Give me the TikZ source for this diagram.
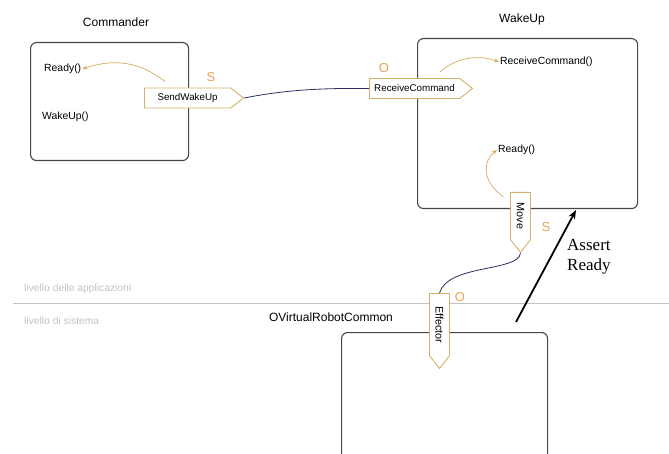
\documentclass[tikz,border=0pt]{standalone}
\usepackage{fontspec}
\setmainfont{Liberation Sans}
\newfontfamily\assertfont{Liberation Serif}
\usetikzlibrary{shapes.symbols,arrows.meta}

\definecolor{boxgray}{RGB}{70,70,70}
\definecolor{porttan}{RGB}{212,178,108}
\definecolor{calltan}{RGB}{214,172,96}
\definecolor{sidecol}{RGB}{232,164,80}
\definecolor{wirecol}{RGB}{45,45,95}
\definecolor{levelgray}{RGB}{195,195,195}

\begin{document}
\begin{tikzpicture}[x=1pt,y=-1pt,
  comp/.style={draw=boxgray, line width=1.1pt, rounded corners=6pt, anchor=north west, inner sep=0pt},
  title/.style={font=\fontsize{12}{14}\selectfont},
  meth/.style={font=\fontsize{10.4}{12}\selectfont, inner sep=1pt, anchor=west},
  port/.style={signal, signal to=east, signal pointer angle=76, draw=porttan, fill=white,
    line width=0.9pt, font=\fontsize{9.8}{11}\selectfont, minimum height=20pt, inner xsep=2pt, anchor=west},
  vport/.style={port, rotate=-90, font=\fontsize{10.8}{12}\selectfont},
  side/.style={text=sidecol, font=\fontsize{13}{14}\selectfont, inner sep=0pt},
  wire/.style={draw=wirecol, line width=0.8pt},
  call/.style={draw=calltan, line width=0.7pt, -{Stealth[length=5pt,width=4pt]}},
  level/.style={text=levelgray, font=\fontsize{10.3}{12}\selectfont, anchor=west, inner sep=0pt}]
  \clip (0,0) rectangle (669,454);

  % layers
  \draw[levelgray, line width=0.6pt] (13,303) -- (669,303);
  \node[level] (app) at (24,289) {livello delle applicazioni};
  \node[level] (sys) at (24,321) {livello di sistema};

  % components
  \node[comp, minimum width=158pt, minimum height=118pt] (commander) at (30,42) {};
  \node[title] (commandertitle) at (116,22) {Commander};
  \node[comp, minimum width=220pt, minimum height=170pt] (wakeup) at (417,38) {};
  \node[title] (wakeuptitle) at (522,19) {WakeUp};
  \node[comp, minimum width=206pt, minimum height=160pt] (ovrc) at (341,332) {};
  \node[title] (ovrctitle) at (331,317) {OVirtualRobotCommon};

  \node[meth] (ready1) at (43,69) {Ready()};
  \node[meth] (wakeup1) at (41,117) {WakeUp()};
  \node[meth] (recv2) at (499,62) {ReceiveCommand()};
  \node[meth] (ready2) at (497,150) {Ready()};

  % ports
  \node[port, minimum width=99pt] (sendwakeup) at (144,98) {SendWakeUp};
  \node[port, minimum width=103pt] (receivecommand) at (369,88.5) {ReceiveCommand};
  \node[vport, minimum width=60pt] (move) at (520.5,192) {Move};
  \node[vport, minimum width=75pt] (effector) at (439.5,293) {Effector};

  \node[side] (s1) at (211,77) {S};
  \node[side] (o1) at (384,68) {O};
  \node[side] (s2) at (546,227) {S};
  \node[side] (o2) at (460,297) {O};

  % connections
  \draw[wire] (sendwakeup.east) .. controls (285,90) and (320,88) .. (receivecommand.west);
  \draw[wire] (move.east) .. controls (518,272) and (448,264) .. (effector.west);

  \draw[call] ([shift={(21,-6)}]sendwakeup.north west) .. controls (140,62) and (115,58) .. (ready1.east);
  \draw[call] ([shift={(71,-6)}]receivecommand.north west) .. controls (455,58) and (478,54) .. (recv2.west);
  \draw[call] ([shift={(-17,5)}]move.west) .. controls (480,180) and (484,160) .. (ready2.west);

  % assert
  \coordinate (assertfrom) at (516,322);
  \coordinate (assertto) at (576,210);
  \draw[line width=1.8pt, -{Stealth[length=9pt,width=7pt]}] (assertfrom) -- (assertto);
  \node[font=\assertfont\fontsize{17}{20}\selectfont, align=left, anchor=west, inner sep=0pt] (assert) at (567,257) {Assert\\Ready};
\end{tikzpicture}
\end{document}
